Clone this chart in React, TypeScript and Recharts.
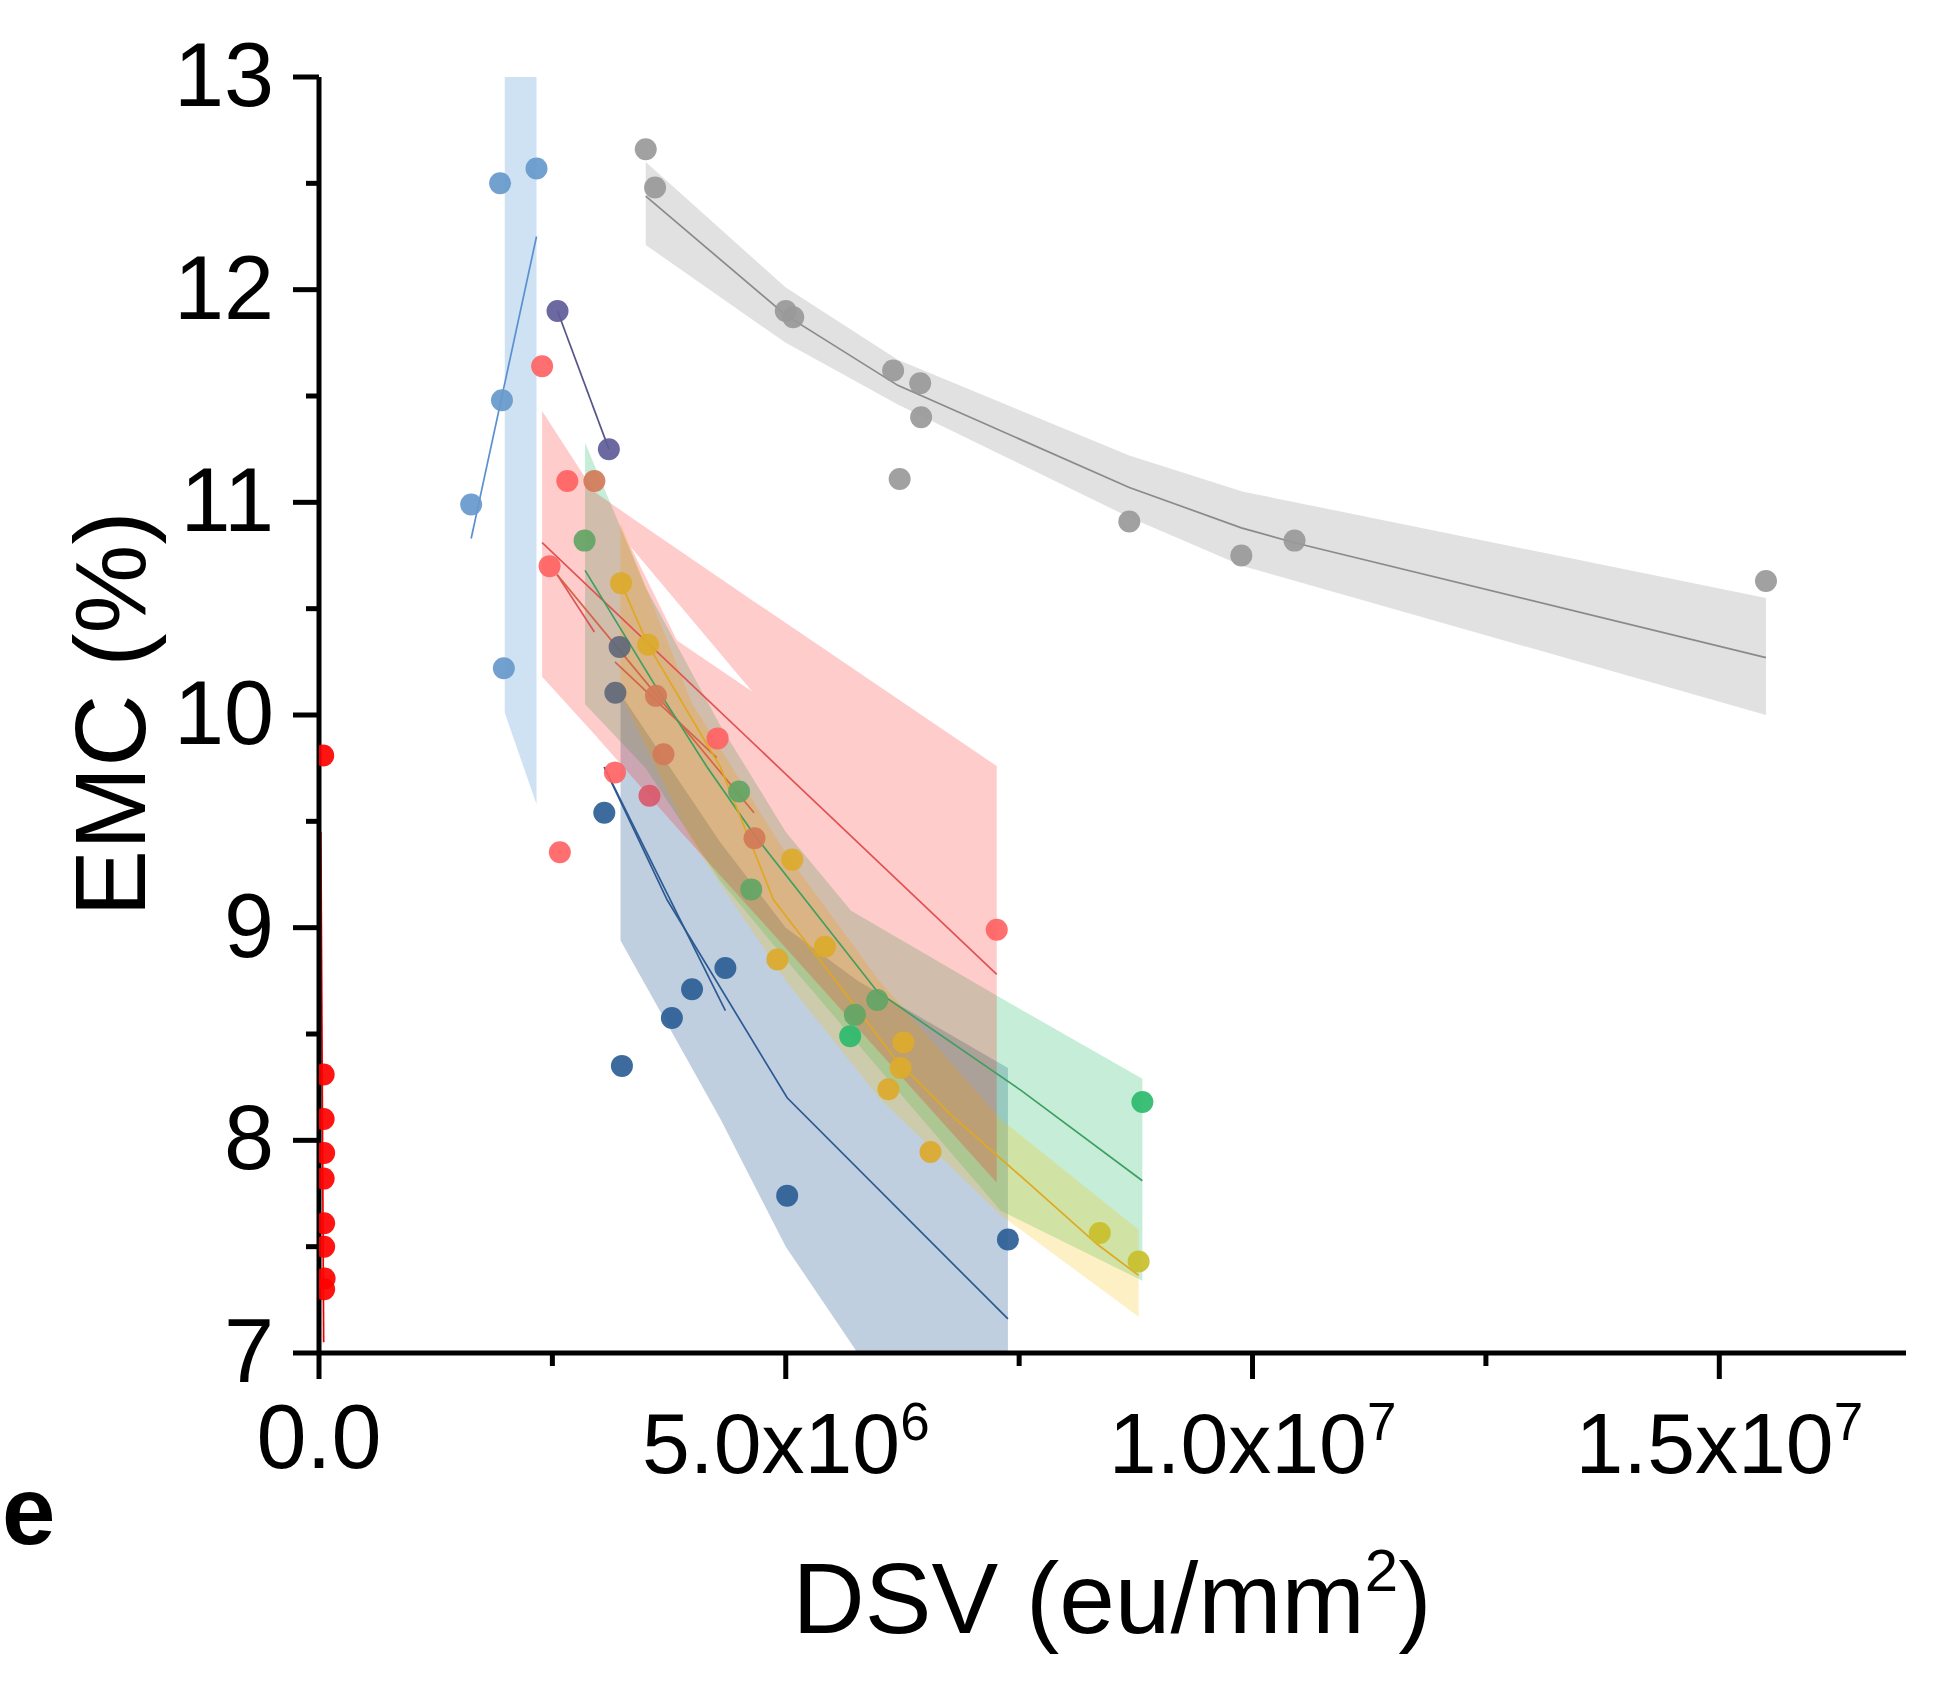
import React from 'react';
import { ComposedChart, XAxis, YAxis, Scatter, Line, Area } from 'recharts';

// x values in 10^6 eu/mm2, y values EMC (%)
const MILLION = 1e6;

// gray group
const grayX = [3.5, 3.6, 5.0, 5.08, 6.15, 6.44, 6.45, 6.22, 8.68, 9.88, 10.45, 15.5];
const grayY = [12.66, 12.48, 11.9, 11.87, 11.62, 11.56, 11.4, 11.11, 10.91, 10.75, 10.82, 10.63];
const grayFitX = [3.5, 5.0, 6.2, 8.68, 9.88, 10.45, 15.5];
const grayFitY = [12.44, 11.88, 11.55, 11.07, 10.88, 10.81, 10.27];
const grayBandX = [3.5, 5.0, 6.2, 8.68, 9.9, 15.5];
const grayLow = [12.21, 11.75, 11.46, 10.93, 10.7, 10.0];
const grayHigh = [12.6, 12.01, 11.67, 11.22, 11.05, 10.55];

// light blue group
const lightBlueX = [1.63, 1.94, 1.96, 1.98, 2.33];
const lightBlueY = [10.99, 12.5, 11.48, 10.22, 12.57];
const lightBlueFitX = [1.63, 2.33];
const lightBlueFitY = [10.83, 12.25];
const lightBlueBandX = [1.99, 2.33];
const lightBlueLow = [10.01, 9.58];
const lightBlueHigh = [13.5, 13.5];

// purple group
const purpleX = [2.555, 3.105];
const purpleY = [11.9, 11.25];

// salmon group
const salmonX = [2.39, 2.66, 2.47, 2.58, 3.17, 7.26, 4.27];
const salmonY = [11.64, 11.1, 10.7, 9.355, 9.73, 8.99, 9.89];
const salmonFitX = [2.39, 7.26];
const salmonFitY = [10.81, 8.78];
const salmonShortX = [2.55, 2.95];
const salmonShortY = [10.66, 10.39];
// pink band, in pieces around the open notch
const pinkLeftX = [2.39, 2.95, 3.34];
const pinkLeftLow = [10.18, 9.91, 9.715];
const pinkLeftHigh = [11.43, 11.05, 10.93];
const pinkTopX = [3.34, 4.64];
const pinkTopLow = [10.79, 10.11];
const pinkTopHigh = [10.93, 10.54];
const pinkUnderX = [3.34, 3.835, 4.64];
const pinkUnderLow = [9.715, 9.47, 9.08];
const pinkUnderHigh = [10.79, 10.35, 10.11];
const pinkRightX = [4.64, 7.26];
const pinkRightLow = [9.08, 7.8];
const pinkRightHigh = [10.54, 9.76];

// rose
const roseX = [3.54];
const roseY = [9.62];

// orange group
const orangeX = [2.95, 3.61, 3.69, 4.665];
const orangeY = [11.1, 10.09, 9.815, 9.42];
const orangeFitAX = [2.55, 4.66];
const orangeFitAY = [10.66, 9.54];
const orangeFitBX = [3.17, 4.26];
const orangeFitBY = [10.25, 9.8];

// green group
const greenX = [2.845, 4.5, 4.63, 5.98, 5.74];
const greenY = [10.82, 9.64, 9.18, 8.66, 8.59];
const brightGreenX = [5.69, 8.82];
const brightGreenY = [8.49, 8.18];
const greenFitX = [2.85, 3.585, 4.157, 4.657, 5.98, 7.52, 8.82];
const greenFitY = [10.68, 10.15, 9.755, 9.44, 8.7, 8.235, 7.81];
const greenBandX = [2.85, 3.5, 4.3, 5.0, 5.7, 7.3, 8.82];
const greenLow = [10.05, 9.75, 9.22, 8.85, 8.49, 7.67, 7.34];
const greenHigh = [11.28, 10.6, 9.95, 9.45, 9.08, 8.67, 8.29];

// gold group
const goldX = [3.235, 3.525, 5.07, 4.91, 5.42, 6.26, 6.23, 6.1, 6.55];
const goldY = [10.62, 10.33, 9.32, 8.85, 8.91, 8.46, 8.34, 8.24, 7.945];
const oliveX = [8.364, 8.78];
const oliveY = [7.564, 7.43];
const goldFitX = [3.235, 3.525, 4.3, 4.87, 5.5, 6.16, 6.77, 7.52, 8.34, 8.78];
const goldFitY = [10.62, 10.33, 9.755, 9.13, 8.77, 8.39, 8.12, 7.83, 7.51, 7.365];
const yellowBandX = [3.23, 4.0, 5.0, 6.0, 7.3, 8.78];
const yellowLow = [10.1, 9.4, 8.75, 8.2, 7.65, 7.17];
const yellowHigh = [10.9, 10.05, 9.35, 8.75, 8.1, 7.58];

// slate
const slateX = [3.22, 3.175];
const slateY = [10.32, 10.105];

// navy group
const navyX = [3.056, 3.245, 3.78, 3.996, 4.353, 5.015, 7.38];
const navyY = [9.54, 8.35, 8.575, 8.71, 8.81, 7.74, 7.534];
const navyFitX = [3.056, 3.73, 5.015, 7.38];
const navyFitY = [9.755, 9.13, 8.2, 7.16];
const navyShortX = [3.056, 4.353];
const navyShortY = [9.755, 8.61];
const navyBandX = [3.23, 4.3, 5.0, 5.77, 7.38];
const navyLow = [8.94, 8.1, 7.5, 7.0, 5.9];
const navyHigh = [10.1, 9.4, 9.0, 8.75, 8.34];

// red group on the axis
const redX = [0.045, 0.05, 0.05, 0.055, 0.05, 0.055, 0.055, 0.06, 0.055];
const redY = [9.81, 8.31, 8.1, 7.94, 7.82, 7.61, 7.5, 7.35, 7.3];
const redFitX = [0.02, 0.05];
const redFitY = [9.45, 7.05];

// axes
const xTicks = [0, 2.5, 5, 7.5, 10, 12.5, 15];
const xTickMantissa = ['0.0', '', '5.0x10', '', '1.0x10', '', '1.5x10'];
const xTickExponent = ['', '', '6', '', '7', '', '7'];
const yTicks = [7, 7.5, 8, 8.5, 9, 9.5, 10, 10.5, 11, 11.5, 12, 12.5, 13];

const FONT = '"Liberation Sans", Arial, sans-serif';

const toPoints = (xs: number[], ys: number[]) => xs.map((x, i) => ({ x: x * MILLION, y: ys[i] }));
const toBand = (xs: number[], lo: number[], hi: number[]) =>
  xs.map((x, i) => ({ x: x * MILLION, range: [lo[i], hi[i]] }));

const PINK = { fill: '#ff0000', opacity: 0.2 };

const bands = [
  { key: 'gray', data: toBand(grayBandX, grayLow, grayHigh), fill: '#808080', opacity: 0.24 },
  { key: 'lightBlue', data: toBand(lightBlueBandX, lightBlueLow, lightBlueHigh), fill: '#5b9bd5', opacity: 0.29 },
  { key: 'navy', data: toBand(navyBandX, navyLow, navyHigh), fill: '#2f5f99', opacity: 0.3 },
  { key: 'green', data: toBand(greenBandX, greenLow, greenHigh), fill: '#2ebd6b', opacity: 0.27 },
  { key: 'yellow', data: toBand(yellowBandX, yellowLow, yellowHigh), fill: '#f5c000', opacity: 0.23 },
  { key: 'pinkLeft', data: toBand(pinkLeftX, pinkLeftLow, pinkLeftHigh), ...PINK },
  { key: 'pinkTop', data: toBand(pinkTopX, pinkTopLow, pinkTopHigh), ...PINK },
  { key: 'pinkUnder', data: toBand(pinkUnderX, pinkUnderLow, pinkUnderHigh), ...PINK },
  { key: 'pinkRight', data: toBand(pinkRightX, pinkRightLow, pinkRightHigh), ...PINK },
];

const lines = [
  { key: 'gray', data: toPoints(grayFitX, grayFitY), color: '#8a8a8a' },
  { key: 'lightBlue', data: toPoints(lightBlueFitX, lightBlueFitY), color: '#5b8fcf' },
  { key: 'purple', data: toPoints(purpleX, purpleY), color: '#55558a' },
  { key: 'salmon', data: toPoints(salmonFitX, salmonFitY), color: '#e05252' },
  { key: 'salmonShort', data: toPoints(salmonShortX, salmonShortY), color: '#e05252' },
  { key: 'orangeA', data: toPoints(orangeFitAX, orangeFitAY), color: '#d4654a' },
  { key: 'orangeB', data: toPoints(orangeFitBX, orangeFitBY), color: '#d4654a' },
  { key: 'green', data: toPoints(greenFitX, greenFitY), color: '#3f9e62' },
  { key: 'gold', data: toPoints(goldFitX, goldFitY), color: '#e0a820' },
  { key: 'navy', data: toPoints(navyFitX, navyFitY), color: '#2c5a91' },
  { key: 'navyShort', data: toPoints(navyShortX, navyShortY), color: '#2c5a91' },
  { key: 'red', data: toPoints(redFitX, redFitY), color: '#ee0000' },
];

const scatters = [
  { key: 'gray', data: toPoints(grayX, grayY), color: '#999999' },
  { key: 'lightBlue', data: toPoints(lightBlueX, lightBlueY), color: '#6699cc' },
  { key: 'purple', data: toPoints(purpleX, purpleY), color: '#5e5c98' },
  { key: 'salmon', data: toPoints(salmonX, salmonY), color: '#ff6363' },
  { key: 'rose', data: toPoints(roseX, roseY), color: '#d95a6b' },
  { key: 'orange', data: toPoints(orangeX, orangeY), color: '#d37a58' },
  { key: 'green', data: toPoints(greenX, greenY), color: '#62a565' },
  { key: 'brightGreen', data: toPoints(brightGreenX, brightGreenY), color: '#2cba6c' },
  { key: 'gold', data: toPoints(goldX, goldY), color: '#dcaa2b' },
  { key: 'olive', data: toPoints(oliveX, oliveY), color: '#c9bf2b' },
  { key: 'slate', data: toPoints(slateX, slateY), color: '#5f6878' },
  { key: 'navy', data: toPoints(navyX, navyY), color: '#2c5e96' },
  { key: 'red', data: toPoints(redX, redY), color: '#ff0000' },
];

const XTick = (props: any) => {
  const { x, y, payload } = props;
  const i = xTicks.indexOf(payload.value / MILLION);
  const label = i >= 0 ? xTickMantissa[i] : '';
  const exp = i >= 0 ? xTickExponent[i] : '';
  const major = label !== '';
  const isZero = label === '0.0';
  return (
    <g>
      <line x1={x} x2={x} y1={y} y2={y + (major ? 26 : 13)} stroke="#000" strokeWidth={5} />
      {major && (
        <text x={x} y={y + (isZero ? 115 : 120)} textAnchor="middle" fontSize={isZero ? 90 : 86} fontFamily={FONT} fill="#000">
          {label}
          {exp && (
            <tspan dy={-33} fontSize={53}>
              {exp}
            </tspan>
          )}
        </text>
      )}
    </g>
  );
};

const YTick = (props: any) => {
  const { x, y, payload } = props;
  const major = Number.isInteger(payload.value);
  return (
    <g>
      <line x1={x} x2={x - (major ? 26 : 13)} y1={y} y2={y} stroke="#000" strokeWidth={5} />
      {major && (
        <text x={x - 45} y={y + 29} textAnchor="end" fontSize={90} fontFamily={FONT} fill="#000">
          {payload.value}
        </text>
      )}
    </g>
  );
};

export default function App() {
  return (
    <div
      style={{
        position: 'absolute',
        left: 0,
        top: 0,
        width: 1937,
        height: 1683,
        background: '#fff',
        overflow: 'hidden',
        fontFamily: FONT,
      }}
    >
      <ComposedChart width={1930} height={1680} margin={{ top: 77, right: 24, bottom: 0, left: 0 }}>
        <XAxis
          type="number"
          dataKey="x"
          domain={[0, 17 * MILLION]}
          ticks={xTicks.map((t) => t * MILLION)}
          interval={0}
          allowDataOverflow
          axisLine={{ stroke: '#000', strokeWidth: 5 }}
          tickLine={false}
          tickSize={0}
          tickMargin={0}
          tick={(p: any) => <XTick {...p} />}
          height={327}
        />
        <YAxis
          type="number"
          domain={[7, 13]}
          ticks={yTicks}
          interval={0}
          allowDataOverflow
          axisLine={{ stroke: '#000', strokeWidth: 5 }}
          tickLine={false}
          tickSize={0}
          tickMargin={0}
          tick={(p: any) => <YTick {...p} />}
          width={319}
        />
        {bands.map((b) => (
          <Area
            key={'band-' + b.key}
            data={b.data}
            dataKey="range"
            type="linear"
            stroke="none"
            fill={b.fill}
            fillOpacity={b.opacity}
            isAnimationActive={false}
          />
        ))}
        {lines.map((l) => (
          <Line
            key={'line-' + l.key}
            data={l.data}
            dataKey="y"
            type="linear"
            stroke={l.color}
            strokeWidth={1.7}
            dot={false}
            activeDot={false}
            isAnimationActive={false}
          />
        ))}
        {scatters.map((s) => (
          <Scatter
            key={'pts-' + s.key}
            data={s.data}
            dataKey="y"
            fill={s.color}
            isAnimationActive={false}
            shape={(p: any) => <circle cx={p.cx} cy={p.cy} r={11} fill={s.color} fillOpacity={0.92} />}
          />
        ))}
      </ComposedChart>
      <svg
        width={1937}
        height={1683}
        style={{ position: 'absolute', left: 0, top: 0, pointerEvents: 'none', overflow: 'visible' }}
      >
        <text
          x={145}
          y={714}
          transform="rotate(-90 145 714)"
          textAnchor="middle"
          fontSize={100}
          fontFamily={FONT}
          fill="#000"
        >
          EMC (%)
        </text>
        <text x={1112} y={1633} textAnchor="middle" fontSize={100} fontFamily={FONT} fill="#000">
          DSV (eu/mm
          <tspan dy={-42} fontSize={60}>
            2
          </tspan>
          <tspan dy={42}>)</tspan>
        </text>
        <text x={2} y={1544} textAnchor="start" fontSize={96} fontWeight="bold" fontFamily={FONT} fill="#000">
          e
        </text>
      </svg>
    </div>
  );
}
